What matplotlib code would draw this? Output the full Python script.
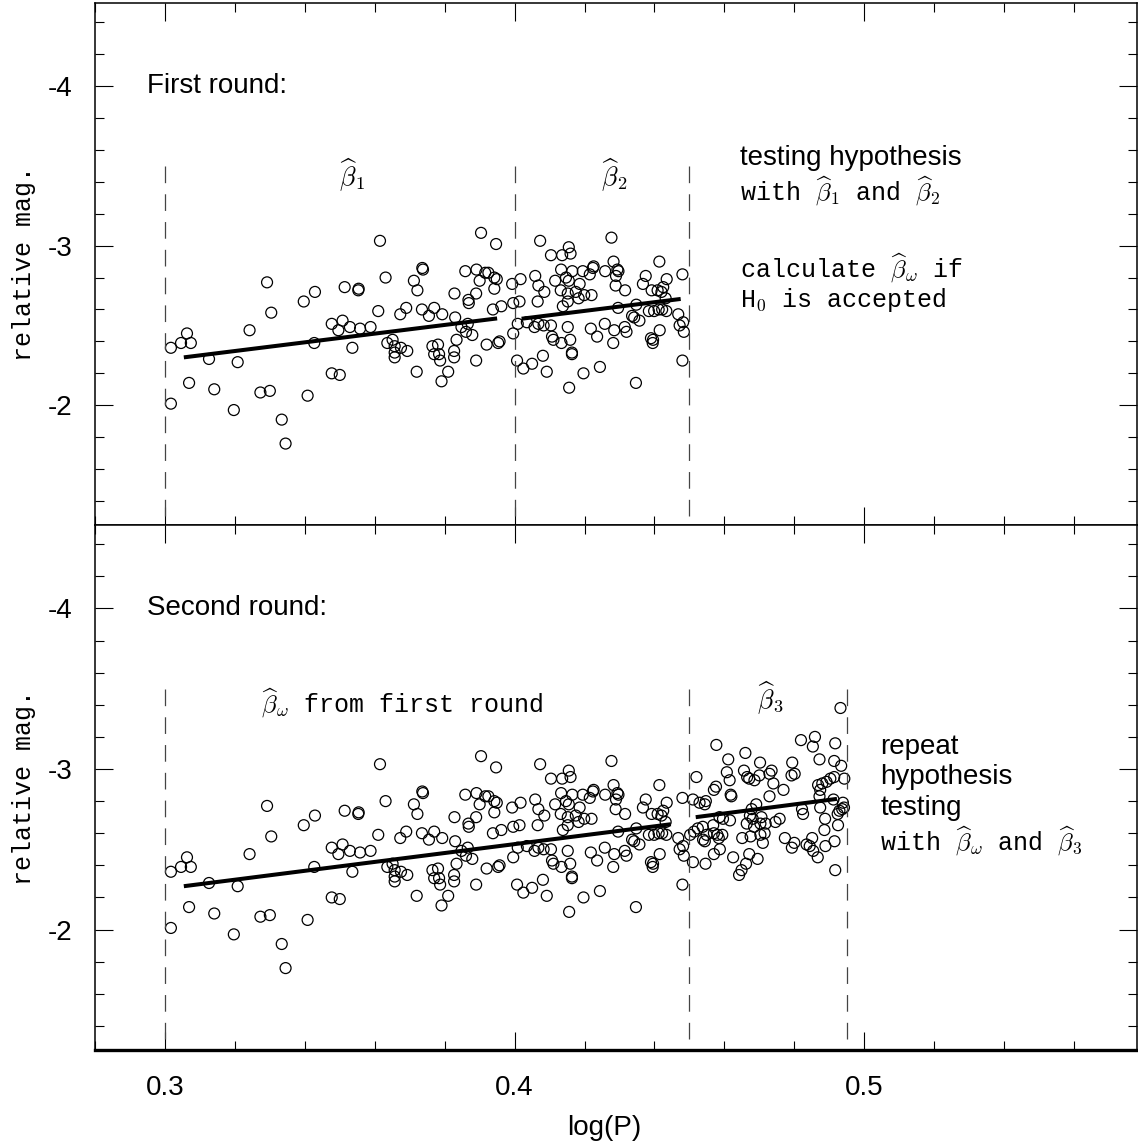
import matplotlib
matplotlib.use('Agg')
import matplotlib.pyplot as plt
from matplotlib.ticker import MultipleLocator, FixedLocator

plt.rcParams['mathtext.fontset'] = 'cm'
plt.rcParams['axes.unicode_minus'] = False
plt.rcParams['lines.scale_dashes'] = False

# first-round sample (log P, relative magnitude)
logp_1 = [0.3017, 0.3046, 0.3063, 0.3074, 0.3017, 0.3069, 0.3126, 0.3141, 0.3197, 0.3208,
          0.3242, 0.3292, 0.3304, 0.3273, 0.3300, 0.3334, 0.3345, 0.3397, 0.3429, 0.3427,
          0.3408, 0.3477, 0.3496, 0.3508, 0.3514, 0.3477, 0.3500, 0.3615, 0.3904, 0.3947,
          0.3553, 0.3554, 0.3631, 0.3736, 0.3738, 0.3712, 0.3722, 0.3610, 0.3673, 0.3690,
          0.3735, 0.3755, 0.3770, 0.3793, 0.3828, 0.3859, 0.3891, 0.3900, 0.3916, 0.3925,
          0.3942, 0.3949, 0.3942, 0.3890, 0.3868, 0.3869, 0.3938, 0.3962, 0.3993, 0.3830,
          0.3848, 0.3866, 0.3861, 0.3879, 0.3834, 0.3827, 0.3827, 0.3890, 0.3920, 0.3953,
          0.3957, 0.3996, 0.3996, 0.3529, 0.3558, 0.3588, 0.3536, 0.3636, 0.3651, 0.3657,
          0.3675, 0.3657, 0.3657, 0.3693, 0.3720, 0.3765, 0.3781, 0.3770, 0.3784, 0.3787,
          0.3810, 0.3791, 0.4073, 0.4277, 0.4155, 0.4104, 0.4136, 0.4160, 0.4414, 0.4226,
          0.4224, 0.4283, 0.4294, 0.4297, 0.4259, 0.4133, 0.4165, 0.4195, 0.4215, 0.4059,
          0.4017, 0.4116, 0.4147, 0.4155, 0.4068, 0.4085, 0.4186, 0.4290, 0.4289, 0.4316,
          0.4375, 0.4367, 0.4435, 0.4480, 0.4132, 0.4152, 0.4175, 0.4183, 0.4199, 0.4220,
          0.4392, 0.4409, 0.4420, 0.4425, 0.4432, 0.4014, 0.4066, 0.4138, 0.4152, 0.4296,
          0.4348, 0.4384, 0.4399, 0.4412, 0.4422, 0.4434, 0.4468, 0.4336, 0.4342, 0.4357,
          0.4009, 0.4035, 0.4057, 0.4068, 0.4083, 0.4104, 0.4152, 0.4258, 0.4218, 0.4236,
          0.4285, 0.4315, 0.4320, 0.4415, 0.4472, 0.4482, 0.4484, 0.4107, 0.4111, 0.4134,
          0.4159, 0.4282, 0.4390, 0.4395, 0.4396, 0.4164, 0.4164, 0.4081, 0.4007, 0.4025,
          0.4050, 0.4092, 0.4244, 0.4197, 0.4156, 0.4347, 0.4480]
mag_1 = [-2.36, -2.39, -2.45, -2.39, -2.01, -2.14, -2.29, -2.10, -1.97, -2.27,
         -2.47, -2.77, -2.58, -2.08, -2.09, -1.91, -1.76, -2.65, -2.71, -2.39,
         -2.06, -2.51, -2.47, -2.53, -2.74, -2.20, -2.19, -3.03, -3.08, -3.01,
         -2.72, -2.73, -2.80, -2.86, -2.85, -2.78, -2.72, -2.59, -2.57, -2.61,
         -2.60, -2.56, -2.61, -2.57, -2.70, -2.84, -2.85, -2.78, -2.83, -2.83,
         -2.80, -2.79, -2.73, -2.70, -2.66, -2.64, -2.60, -2.62, -2.76, -2.55,
         -2.49, -2.51, -2.46, -2.44, -2.41, -2.34, -2.30, -2.28, -2.38, -2.39,
         -2.40, -2.45, -2.64, -2.49, -2.48, -2.49, -2.36, -2.39, -2.41, -2.37,
         -2.36, -2.33, -2.30, -2.34, -2.21, -2.37, -2.38, -2.32, -2.32, -2.28,
         -2.21, -2.15, -3.03, -3.05, -2.99, -2.94, -2.94, -2.95, -2.90, -2.87,
         -2.86, -2.90, -2.85, -2.84, -2.84, -2.85, -2.84, -2.84, -2.82, -2.81,
         -2.79, -2.78, -2.80, -2.78, -2.75, -2.71, -2.76, -2.81, -2.75, -2.72,
         -2.81, -2.76, -2.79, -2.82, -2.72, -2.70, -2.71, -2.67, -2.69, -2.69,
         -2.72, -2.72, -2.71, -2.74, -2.67, -2.65, -2.65, -2.62, -2.65, -2.61,
         -2.63, -2.59, -2.59, -2.60, -2.60, -2.59, -2.57, -2.56, -2.55, -2.53,
         -2.51, -2.52, -2.49, -2.51, -2.50, -2.50, -2.49, -2.51, -2.48, -2.43,
         -2.47, -2.49, -2.46, -2.47, -2.50, -2.52, -2.46, -2.43, -2.41, -2.39,
         -2.41, -2.39, -2.42, -2.39, -2.41, -2.33, -2.32, -2.31, -2.28, -2.23,
         -2.26, -2.21, -2.24, -2.20, -2.11, -2.14, -2.28]

# extra stars added in the second round
logp_3 = [0.4932, 0.4577, 0.4819, 0.4859, 0.4853, 0.4917, 0.4611, 0.4660, 0.4702, 0.4794,
          0.4872, 0.4914, 0.4934, 0.4520, 0.4607, 0.4615, 0.4656, 0.4665, 0.4671, 0.4686,
          0.4700, 0.4729, 0.4735, 0.4740, 0.4792, 0.4801, 0.4769, 0.4868, 0.4880, 0.4892,
          0.4903, 0.4914, 0.4943, 0.4874, 0.4570, 0.4576, 0.4618, 0.4620, 0.4510, 0.4529,
          0.4547, 0.4544, 0.4729, 0.4872, 0.4912, 0.4939, 0.4942, 0.4937, 0.4929, 0.4924,
          0.4691, 0.4678, 0.4822, 0.4825, 0.4874, 0.4586, 0.4596, 0.4616, 0.4673, 0.4681,
          0.4706, 0.4703, 0.4685, 0.4664, 0.4718, 0.4746, 0.4758, 0.4888, 0.4538, 0.4524,
          0.4513, 0.4502, 0.4568, 0.4570, 0.4549, 0.4539, 0.4544, 0.4580, 0.4594, 0.4584,
          0.4651, 0.4675, 0.4703, 0.4715, 0.4710, 0.4773, 0.4800, 0.4793, 0.4835, 0.4851,
          0.4844, 0.4854, 0.4886, 0.4925, 0.4915, 0.4889, 0.4570, 0.4587, 0.4546, 0.4510,
          0.4625, 0.4671, 0.4695, 0.4662, 0.4649, 0.4642, 0.4867, 0.4917]
mag_3 = [-3.38, -3.15, -3.18, -3.20, -3.14, -3.16, -3.06, -3.10, -3.04, -3.04,
         -3.06, -3.05, -3.02, -2.95, -2.98, -2.93, -2.99, -2.95, -2.94, -2.93,
         -2.96, -2.97, -2.99, -2.91, -2.96, -2.97, -2.87, -2.90, -2.91, -2.92,
         -2.94, -2.95, -2.94, -2.87, -2.87, -2.89, -2.84, -2.83, -2.81, -2.79,
         -2.80, -2.78, -2.83, -2.83, -2.81, -2.79, -2.76, -2.75, -2.74, -2.72,
         -2.78, -2.75, -2.75, -2.72, -2.76, -2.70, -2.69, -2.68, -2.71, -2.69,
         -2.70, -2.66, -2.64, -2.66, -2.66, -2.67, -2.69, -2.69, -2.64, -2.63,
         -2.61, -2.59, -2.65, -2.60, -2.59, -2.56, -2.55, -2.59, -2.59, -2.57,
         -2.57, -2.58, -2.59, -2.60, -2.54, -2.57, -2.54, -2.51, -2.53, -2.57,
         -2.52, -2.49, -2.62, -2.65, -2.55, -2.52, -2.47, -2.50, -2.41, -2.42,
         -2.45, -2.47, -2.44, -2.41, -2.37, -2.34, -2.45, -2.37]

# fitted slopes (end points)
fit1_x = [0.3054, 0.3950]
fit1_y = [-2.30, -2.544]
fit2_x = [0.4020, 0.4475]
fit2_y = [-2.542, -2.666]
fitw_x = [0.3054, 0.4447]
fitw_y = [-2.27, -2.656]
fit3_x = [0.4518, 0.4922]
fit3_y = [-2.70, -2.814]

bounds_1 = [0.30, 0.40, 0.45]
bounds_2 = [0.30, 0.45, 0.495]

SANS = 'Liberation Sans'
SERIF = 'Liberation Mono'


def style_axis(ax, show_x):
    ax.set_xlim(0.28, 0.578)
    ax.set_ylim(-1.25, -4.52)
    ax.xaxis.set_major_locator(FixedLocator([0.3, 0.4, 0.5]))
    ax.xaxis.set_minor_locator(MultipleLocator(0.02))
    ax.yaxis.set_major_locator(FixedLocator([-4, -3, -2]))
    ax.yaxis.set_minor_locator(MultipleLocator(0.2))
    ax.tick_params(which='both', direction='in', top=True, right=True, width=0.8)
    ax.tick_params(which='major', length=13)
    ax.tick_params(which='minor', length=6.5)
    ax.tick_params(axis='y', pad=16)
    ax.tick_params(axis='x', pad=18, labelbottom=show_x)
    ax.set_yticklabels(['-4', '-3', '-2'], fontfamily=SANS, fontsize=20)
    if show_x:
        ax.set_xticklabels(['0.3', '0.4', '0.5'], fontfamily=SANS, fontsize=20)
    for s in ax.spines.values():
        s.set_linewidth(1.1)
    ax.set_ylabel('relative mag.', fontfamily=SERIF, fontsize=18, labelpad=9)


fig = plt.figure(figsize=(11.38, 11.48), dpi=100)
ax1 = fig.add_axes([0.0835, 0.5427, 0.9156, 0.4547])
ax2 = fig.add_axes([0.0835, 0.0854, 0.9156, 0.4573])

# top panel
style_axis(ax1, False)
ax1.scatter(logp_1, mag_1, s=62, facecolors='none', edgecolors='black', linewidths=0.9)
ax1.plot(fit1_x, fit1_y, color='black', lw=2.9, solid_capstyle='butt')
ax1.plot(fit2_x, fit2_y, color='black', lw=2.9, solid_capstyle='butt')
ax1.vlines(bounds_1, -3.5, -1.25, colors='#444444', linestyles=(0, (12, 8)), lw=0.9)
ax1.text(0.2949, -4.0, 'First round:', fontfamily=SANS, fontsize=20, va='center')
ax1.text(0.3534, -3.44, r'$\widehat{\beta}_1$', fontsize=19, ha='center', va='center')
ax1.text(0.4284, -3.44, r'$\widehat{\beta}_2$', fontsize=19, ha='center', va='center')
ax1.text(0.4646, -3.55, 'testing hypothesis', fontfamily=SANS, fontsize=20, va='center')
ax1.text(0.4646, -3.34, r'with $\widehat{\beta}_1$ and $\widehat{\beta}_2$',
         fontfamily=SERIF, fontsize=18, va='center')
ax1.text(0.4646, -2.86, r'calculate $\widehat{\beta}_\omega$ if',
         fontfamily=SERIF, fontsize=18, va='center')
ax1.text(0.4646, -2.66, r'H$_0$ is accepted', fontfamily=SERIF, fontsize=18, va='center')

# bottom panel
style_axis(ax2, True)
ax2.spines['bottom'].set_linewidth(2.4)
ax2.scatter(logp_1 + logp_3, mag_1 + mag_3, s=62, facecolors='none', edgecolors='black',
            linewidths=0.9)
ax2.plot(fitw_x, fitw_y, color='black', lw=2.9, solid_capstyle='butt')
ax2.plot(fit3_x, fit3_y, color='black', lw=2.9, solid_capstyle='butt')
ax2.vlines(bounds_2, -3.5, -1.25, colors='#444444', linestyles=(0, (12, 8)), lw=0.9)
ax2.text(0.2949, -4.0, 'Second round:', fontfamily=SANS, fontsize=20, va='center')
ax2.text(0.3680, -3.41, r'$\widehat{\beta}_\omega$ from first round',
         fontfamily=SERIF, fontsize=18, ha='center', va='center')
ax2.text(0.4732, -3.44, r'$\widehat{\beta}_3$', fontsize=19, ha='center', va='center')
ax2.text(0.5046, -3.14, 'repeat', fontfamily=SANS, fontsize=20, va='center')
ax2.text(0.5046, -2.95, 'hypothesis', fontfamily=SANS, fontsize=20, va='center')
ax2.text(0.5046, -2.76, 'testing', fontfamily=SANS, fontsize=20, va='center')
ax2.text(0.5046, -2.55, r'with $\widehat{\beta}_\omega$ and $\widehat{\beta}_3$',
         fontfamily=SERIF, fontsize=18, va='center')
ax2.set_xlabel('log(P)', fontfamily=SANS, fontsize=20, labelpad=10)
ax2.xaxis.label.set_x(0.489)

fig.savefig('out.png', dpi=100)
